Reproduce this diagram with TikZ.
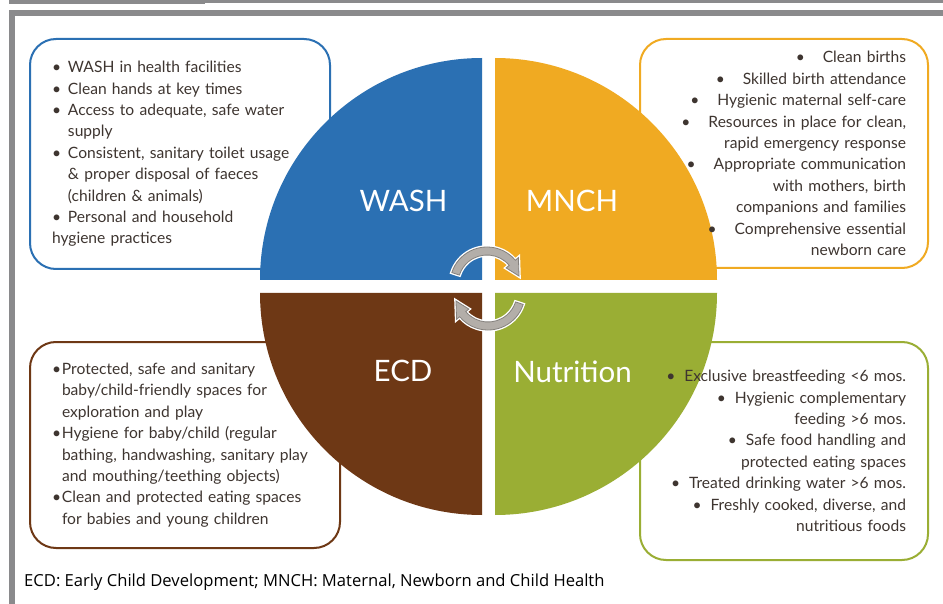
\documentclass[tikz,border=0pt]{standalone}
\usepackage{fontspec}
\setmainfont{Lato}
\newfontfamily\notefont{Open Sans}
\definecolor{washblue}{HTML}{2B70B3}
\definecolor{mnchorange}{HTML}{F0AA22}
\definecolor{ecdbrown}{HTML}{6E3815}
\definecolor{nutrigreen}{HTML}{9AAE34}
\definecolor{framegray}{HTML}{8A8A8C}
\definecolor{itemtext}{HTML}{3E3530}
\definecolor{arrowfill}{HTML}{B3AEA9}
\definecolor{arrowedge}{HTML}{85817D}
\newcommand{\bul}{\makebox[16pt][l]{\textbullet}}
\newcommand{\ebul}{\makebox[10pt][l]{\textbullet}}
\newcommand{\cyclearrow}{%
  \draw[cycarrow] (162:37pt) arc[start angle=162, end angle=40, radius=37pt]
    -- (40:41pt) -- (14:33pt) -- (40:25pt) -- (40:29pt)
    arc[start angle=40, end angle=162, radius=29pt] -- cycle;}
\tikzset{
  quad/.style={text=white, font=\fontsize{29.5}{29.5}\selectfont, anchor=base, inner sep=0pt},
  box/.style={rounded corners=26pt, line width=2pt, inner xsep=22pt, inner ysep=0pt,
    text=itemtext, font=\fontsize{15.6}{21.4}\selectfont},
  cycarrow/.style={fill=arrowfill, draw=arrowedge, line width=0.8pt,
    preaction={draw=white, line width=3.5pt}}
}
\begin{document}
\begin{tikzpicture}[x=1pt, y=1pt]
\useasboundingbox (0,0) rectangle (943,-604);
\fill[white] (0,0) rectangle (943,-604);
\fill[framegray] (9,0) rectangle (205,-3.7);
\fill[framegray] (205,0) rectangle (943,-2.7);
\fill[framegray] (9,-10) rectangle (943,-16);
\fill[framegray] (9,-10) rectangle (15,-604);

\fill[washblue] (482,-280) -- (260,-280) arc[start angle=180, end angle=90, radius=222pt] -- cycle;
\fill[mnchorange] (495,-280) -- (495,-58) arc[start angle=90, end angle=0, radius=222pt] -- cycle;
\fill[ecdbrown] (482,-293) -- (482,-515) arc[start angle=270, end angle=180, radius=222pt] -- cycle;
\fill[nutrigreen] (495,-293) -- (717,-293) arc[start angle=0, end angle=-90, radius=222pt] -- cycle;

\node[quad] (washlabel) at (403.5,-212) {WASH};
\node[quad] (mnchlabel) at (572,-212) {MNCH};
\node[quad] (ecdlabel) at (403,-381) {ECD};
\node[quad] (nutrilabel) at (572.5,-382) {Nutrition};

\begin{scope}[shift={(487,-284)}]
  \cyclearrow
\end{scope}
\begin{scope}[shift={(488,-293)}, rotate=180]
  \cyclearrow
\end{scope}

\node[box, draw=washblue, text width=256pt, minimum height=230pt, align=left] (washbox) at (180,-154) {%
  \bul WASH in health facilities\\
  \bul Clean hands at key times\\
  \bul Access to adequate, safe water\\
  \hspace*{16pt}supply\\
  \bul Consistent, sanitary toilet usage\\
  \hspace*{16pt}\& proper disposal of faeces\\
  \hspace*{16pt}(children \& animals)\\
  \bul Personal and household\\
  hygiene practices};
\node[box, draw=mnchorange, text width=244pt, minimum height=229pt, align=right] (mnchbox) at (784,-153.5) {%
  \textbullet\hspace{18pt}Clean births\\
  \textbullet\hspace{18pt}Skilled birth attendance\\
  \textbullet\hspace{18pt}Hygienic maternal self-care\\
  \textbullet\hspace{18pt}Resources in place for clean,\\
  rapid emergency response\\
  \textbullet\hspace{18pt}Appropriate communication\\
  with mothers, birth\\
  companions and families\\
  \textbullet\hspace{18pt}Comprehensive essential\\
  newborn care};
\node[box, draw=ecdbrown, text width=266pt, minimum height=206pt, align=left] (ecdbox) at (185,-445) {%
  \ebul Protected, safe and sanitary\\
  \hspace*{10pt}baby/child-friendly spaces for\\
  \hspace*{10pt}exploration and play\\
  \ebul Hygiene for baby/child (regular\\
  \hspace*{10pt}bathing, handwashing, sanitary play\\
  \hspace*{10pt}and mouthing/teething objects)\\
  \ebul Clean and protected eating spaces\\
  \hspace*{10pt}for babies and young children};
\node[box, draw=nutrigreen, text width=244pt, minimum height=218pt, align=right] (nutribox) at (784,-451) {%
  \textbullet\hspace{9pt}Exclusive breastfeeding <6 mos.\\
  \textbullet\hspace{9pt}Hygienic complementary\\
  feeding >6 mos.\\
  \textbullet\hspace{9pt}Safe food handling and\\
  protected eating spaces\\
  \textbullet\hspace{9pt}Treated drinking water >6 mos.\\
  \textbullet\hspace{9pt}Freshly cooked, diverse, and\\
  nutritious foods};

\node[anchor=base west, inner sep=0pt, font=\notefont\fontsize{16.6}{19}\selectfont, text=black] (footnote) at (24,-586)
  {ECD: Early Child Development; MNCH: Maternal, Newborn and Child Health};
\end{tikzpicture}
\end{document}
